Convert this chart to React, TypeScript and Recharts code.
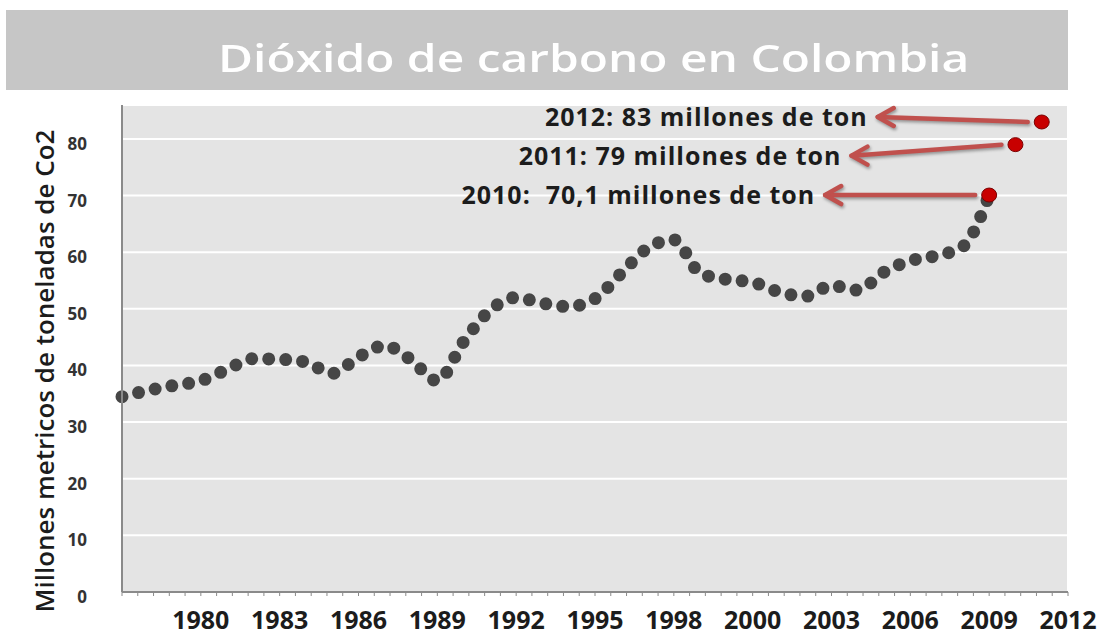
import { ComposedChart, Line, Scatter, XAxis, YAxis, CartesianGrid } from 'recharts'

// Annual CO2 emissions, million metric tons
const years = [
  1977, 1978, 1979, 1980, 1981, 1982, 1983, 1984, 1985, 1986, 1987, 1988,
  1989, 1990, 1991, 1992, 1993, 1994, 1995, 1996, 1997, 1998, 1999, 2000,
  2001, 2002, 2003, 2004, 2005, 2006, 2007, 2008, 2009, 2010,
]
const emissions = [
  34.5, 35.6, 36.5, 37.3, 39.3, 41.2, 41.1, 40.6, 38.6, 41.5, 43.5, 41.0,
  37.3, 44.2, 49.7, 52.0, 51.0, 50.4, 51.8, 56.3, 60.7, 62.2, 56.3, 55.2,
  54.7, 53.0, 52.2, 54.1, 53.3, 56.5, 58.5, 59.4, 61.0, 70.1,
]

// highlighted recent years
const highlightYears = [2010, 2011, 2012]
const highlightValues = [70.1, 79, 83]
const highlightLabels = [
  '2010:  70,1 millones de ton',
  '2011: 79 millones de ton',
  '2012: 83 millones de ton',
]

const yTicks = [0, 10, 20, 30, 40, 50, 60, 70, 80]
const gridYears = [1980, 1983, 1986, 1989, 1992, 1995, 1998, 2001, 2004, 2007, 2010, 2013]
const yearLabels = ['1980', '1983', '1986', '1989', '1992', '1995', '1998', '2000', '2003', '2006', '2009', '2012']

const X_START = 1977
const X_END = 2013
// five small tick marks between every labelled gridline
const minorTicks = Array.from({ length: 61 }, (_, i) => X_START + (i * 3) / 5)

const lineData = years.map((year, i) => ({ year, value: emissions[i] }))
const highlightData = highlightYears.map((year, i) => ({
  year,
  value: highlightValues[i],
  label: highlightLabels[i],
}))

const FONT = '"Open Sans", "Noto Sans", sans-serif'

// the two top captions sit close together, so spread them apart a little
const captionShift: Record<number, number> = { 2011: 11, 2012: -5 }

function YearTick({ x, y, payload }: any) {
  const i = gridYears.findIndex((t) => Math.abs(t - payload.value) < 1e-6)
  if (i < 0) return null
  return (
    <text x={x} y={y} dy="0.71em" textAnchor="middle" fontFamily={FONT} fontSize={25} fontWeight={700} fill="#1c1c1c">
      {yearLabels[i]}
    </text>
  )
}

function ValueTick({ x, y, payload }: any) {
  return (
    <text x={x} y={y} dy={11} textAnchor="end" fontFamily={FONT} fontSize={17} fontWeight={700} fill="#333">
      {payload.value}
    </text>
  )
}

// red point with a left-pointing arrow and its caption
function Callout({ cx, cy, payload }: any) {
  const ty = cy + (captionShift[payload.year] ?? 0)
  const tail = cx - 14
  const tip = tail - 150
  return (
    <g>
      <g
        stroke="#c0504d"
        strokeWidth={4.5}
        fill="none"
        strokeLinecap="round"
        strokeLinejoin="round"
        style={{ filter: 'drop-shadow(1px 2px 1.5px rgba(0,0,0,0.35))' }}
      >
        <line x1={tail} y1={cy} x2={tip} y2={ty} />
        <polyline points={`${tip + 16},${ty - 9} ${tip},${ty} ${tip + 16},${ty + 9}`} />
      </g>
      <text
        x={tip - 10}
        y={ty}
        dy="0.36em"
        textAnchor="end"
        fontFamily={FONT}
        fontSize={25}
        fontWeight={700}
        letterSpacing={1}
        fill="#1c1c1c"
        style={{ whiteSpace: 'pre' }}
      >
        {payload.label}
      </text>
      <ellipse cx={cx} cy={cy} rx={7.5} ry={7} fill="#c80000" stroke="#7a0000" strokeWidth={1} />
    </g>
  )
}

export default function App() {
  return (
    <div style={{ position: 'absolute', left: 0, top: 0, width: 1107, height: 638, background: '#fff', overflow: 'hidden' }}>
      <ComposedChart width={1107} height={638} margin={{ top: 105, right: 39, bottom: 0, left: 0 }}>
        <CartesianGrid xAxisId="grid" stroke="#ffffff" strokeWidth={2} fill="#e4e4e4" />
        <XAxis xAxisId="grid" type="number" dataKey="year" domain={[X_START, X_END]} ticks={gridYears} hide />
        <XAxis
          type="number"
          dataKey="year"
          domain={[X_START, X_END]}
          ticks={minorTicks}
          interval={0}
          tick={<YearTick />}
          tickSize={4}
          tickMargin={15}
          tickLine={{ stroke: '#8a8a8a' }}
          axisLine={{ stroke: '#8a8a8a', strokeWidth: 2 }}
          height={46}
        />
        <YAxis
          type="number"
          domain={[0, 86]}
          ticks={yTicks}
          width={122}
          tick={<ValueTick />}
          tickLine={false}
          tickSize={0}
          tickMargin={35}
          axisLine={{ stroke: '#8a8a8a', strokeWidth: 2 }}
        />
        <Line
          data={lineData}
          dataKey="value"
          type="monotone"
          stroke="#464646"
          strokeWidth={13}
          strokeDasharray="0 17"
          strokeLinecap="round"
          dot={false}
          activeDot={false}
          isAnimationActive={false}
        />
        <Scatter data={highlightData} dataKey="value" shape={<Callout />} isAnimationActive={false} />
      </ComposedChart>

      <div style={{ position: 'absolute', left: 6, top: 10, width: 1062, height: 80, background: '#c6c6c6' }}>
        <span
          style={{
            position: 'absolute',
            left: 212,
            top: 21,
            fontFamily: FONT,
            fontSize: 38,
            fontWeight: 600,
            color: '#ffffff',
            whiteSpace: 'nowrap',
            display: 'inline-block',
            transform: 'scaleX(1.26)',
            transformOrigin: 'left center',
          }}
        >
          Dióxido de carbono en Colombia
        </span>
      </div>

      <div
        style={{
          position: 'absolute',
          left: 44,
          top: 371,
          transform: 'translate(-50%, -50%) rotate(-90deg)',
          fontFamily: FONT,
          fontSize: 26,
          fontWeight: 600,
          color: '#1c1c1c',
          whiteSpace: 'nowrap',
        }}
      >
        Millones metricos de toneladas de Co2
      </div>
    </div>
  )
}
